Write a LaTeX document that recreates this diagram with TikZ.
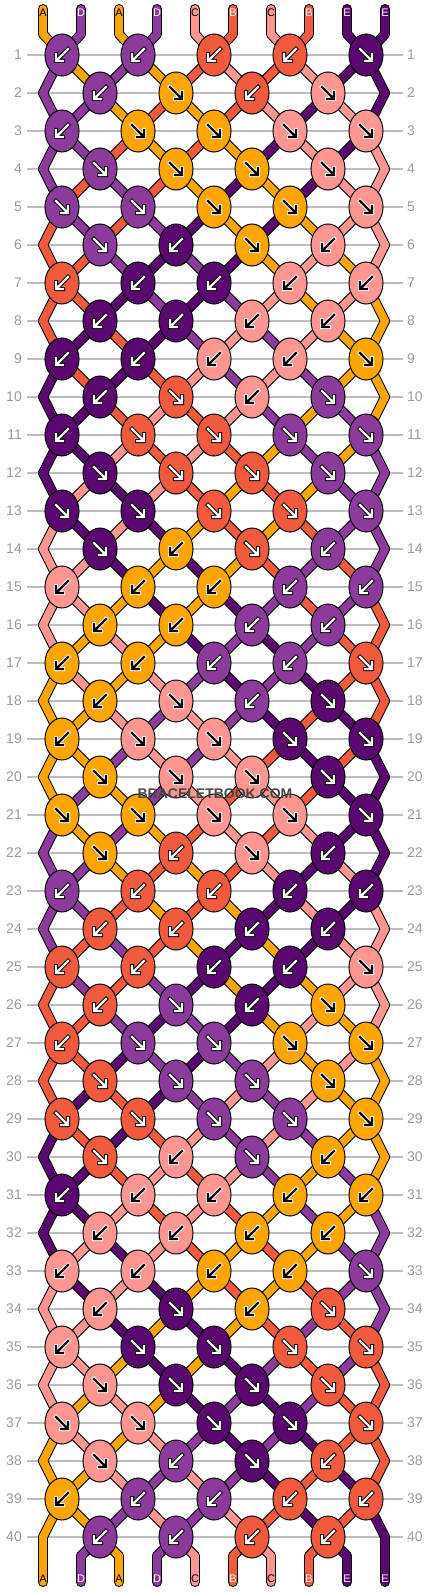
\documentclass[tikz,border=0pt]{standalone}
\usepackage{fontspec}
\setmainfont{Liberation Sans}
\usetikzlibrary{shapes.geometric}

\definecolor{col0}{HTML}{FFA500} % A
\definecolor{col1}{HTML}{F15A3C} % B
\definecolor{col2}{HTML}{FF9692} % C
\definecolor{col3}{HTML}{8C3A9B} % D
\definecolor{col4}{HTML}{5A0870} % E
\definecolor{gridgray}{HTML}{BDBDBD}
\definecolor{numgray}{HTML}{9A9A9A}

\pgfdeclarelayer{grid}
\pgfdeclarelayer{str}
\pgfsetlayers{grid,str,main}

\tikzset{
  knot/.style={ellipse,draw=black,line width=1pt,minimum width=34pt,minimum height=42pt,inner sep=0pt},
  strout/.style={draw=black,line width=10pt,line cap=round,line join=round},
  strin/.style={draw=col\ci,line width=8pt,line cap=round,line join=round},
  arrowout/.style={draw=#1,line width=4pt,line cap=rect,line join=miter},
  arrowin/.style={draw=#1,line width=2.2pt,line cap=rect,line join=miter},
  rowline/.style={draw=gridgray,line width=1.3pt},
  rownum/.style={text=numgray,font=\fontsize{14}{14}\selectfont,inner sep=0pt},
  tag/.style={font=\fontsize{11}{11}\selectfont,inner sep=0pt}
}

% colour of each string after rows 0..7 (0=A, 1=B, 2=C, 3=D, 4=E)
\def\strs{{0,3,0,3,2,1,2,1,4,4,
           3,0,3,0,1,2,1,2,4,4,
           3,3,0,1,0,1,2,4,2,4,
           3,3,1,0,1,0,4,2,4,2,
           3,1,3,1,0,4,0,4,2,2,
           1,3,1,3,4,0,4,0,2,2,
           1,1,3,4,3,4,0,2,0,2,
           1,1,4,3,4,3,2,0,2,0}}

\begin{document}
\begin{tikzpicture}[x=1pt,y=-1pt]
  \useasboundingbox (0,0) rectangle (430,1592);

  % row lines and numbers
  \foreach \r in {1,...,40} {
    \pgfmathsetmacro\y{55+38*(\r-1)}
    \begin{pgfonlayer}{grid}
      \draw[rowline] (27,\y) -- (403,\y);
    \end{pgfonlayer}
    \node[rownum,anchor=east] (nl\r) at (22,\y) {\r};
    \node[rownum,anchor=west] (nr\r) at (407,\y) {\r};
  }

  % string ends and letters
  \foreach \p/\lb in {1/A,2/D,3/A,4/D,5/C,6/B,7/C,8/B,9/E,10/E} {
    \pgfmathsetmacro\x{43+38*(\p-1)}
    \pgfmathtruncatemacro\ci{\strs[\p-1]}
    \ifnum\ci=0 \def\tc{black}\else\ifnum\ci=2 \def\tc{black}\else\def\tc{white}\fi\fi
    \coordinate (t-\p) at (\x,9);
    \coordinate (k0-\p) at (\x,34);
    \coordinate (k41-\p) at (\x,1556);
    \coordinate (b-\p) at (\x,1582);
    \node[tag,text=\tc] (lt-\p) at (\x,13) {\lb};
    \node[tag,text=\tc] (lb-\p) at (\x,1579) {\lb};
  }

  % knots, 8 rows repeated 5 times with the colours shifted
  \foreach \b in {0,...,4} {
    \foreach \kl [count=\i] in {{3/B,3/B,1/B,1/B,4/F},{3/B,0/F,1/B,2/F},
        {3/B,0/F,0/F,2/F,2/F},{3/F,0/F,0/F,2/F},{3/F,3/F,0/F,0/F,2/F},
        {3/F,4/B,0/F,2/B},{1/B,4/B,4/B,2/B,2/B},{4/B,4/B,2/B,2/B}} {
      \pgfmathtruncatemacro\r{8*\b+\i}
      \pgfmathsetmacro\y{55+38*(\r-1)}
      \foreach \c/\dir [count=\k] in \kl {
        \ifodd\r
          \pgfmathtruncatemacro\pa{2*\k-1}
          \pgfmathsetmacro\x{62+76*(\k-1)}
        \else
          \pgfmathtruncatemacro\pa{2*\k}
          \pgfmathsetmacro\x{100+76*(\k-1)}
        \fi
        \pgfmathtruncatemacro\pb{\pa+1}
        \pgfmathtruncatemacro\ci{mod(\c+\b,5)}
        \node[knot,fill=col\ci,alias=k\r-\pb] (k\r-\pa) at (\x,\y) {};
        \ifnum\ci=0 \def\af{black}\def\ao{white}\else
          \ifnum\ci=2 \def\af{black}\def\ao{white}\else\def\af{white}\def\ao{black}\fi\fi
        \if B\dir \def\sx{1}\else\def\sx{-1}\fi
        \draw[arrowout=\ao,shift={(\x,\y)},xscale=\sx] (-6,-1) -- (-6,6) -- (1,6) (6,-6) -- (-5,5);
        \draw[arrowin=\af,shift={(\x,\y)},xscale=\sx] (-6,-1) -- (-6,6) -- (1,6) (6,-6) -- (-5,5);
      }
      \ifodd\r\else
        \coordinate (k\r-1) at (43,\y);
        \coordinate (k\r-10) at (385,\y);
      \fi
    }
  }

  % strings: black outline first, then the colour
  \begin{pgfonlayer}{str}
    \foreach \st in {strout,strin} {
      \foreach \p in {1,...,10} {
        \pgfmathtruncatemacro\ci{\strs[\p-1]}
        \draw[\st] (t-\p) -- (k0-\p.center);
        \draw[\st] (k41-\p.center) -- (b-\p);
      }
      \foreach \r in {0,...,40} {
        \pgfmathtruncatemacro\rr{\r+1}
        \foreach \p in {1,...,10} {
          \pgfmathtruncatemacro\ci{mod(\strs[10*mod(\r,8)+\p-1]+floor(\r/8),5)}
          \draw[\st] (k\r-\p.center) -- (k\rr-\p.center);
        }
      }
    }
  \end{pgfonlayer}

  \node[font=\bfseries\fontsize{14}{14}\selectfont,text=black!72] (mark) at (215,794) {BRACELETBOOK.COM};

\end{tikzpicture}
\end{document}
